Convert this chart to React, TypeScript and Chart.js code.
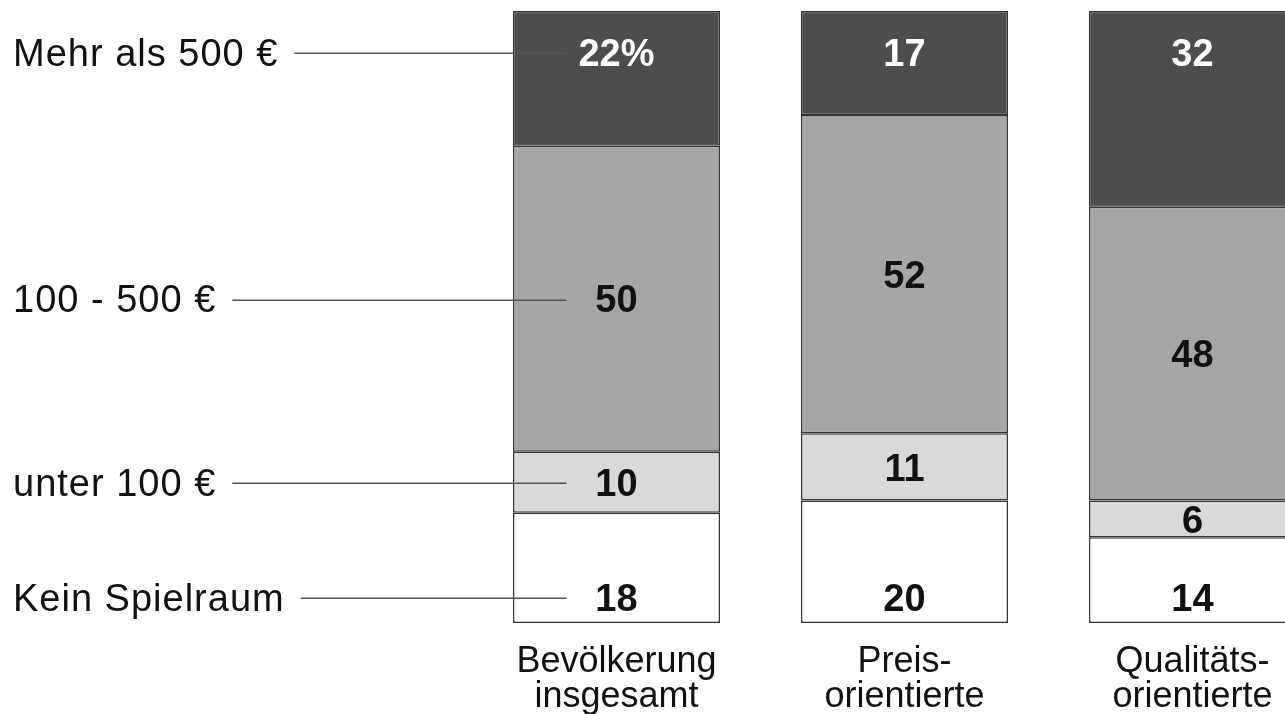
import React, { useEffect, useRef } from "react";
import { Chart, registerables } from "chart.js";

Chart.register(...registerables);

// Spielraum für Anschaffungen, Anteile in Prozent
const groups: string[][] = [
  ["Bevölkerung", "insgesamt"],
  ["Preis-", "orientierte"],
  ["Qualitäts-", "orientierte"],
];
const bandLabels = ["Kein Spielraum", "unter 100 €", "100 - 500 €", "Mehr als 500 €"];
const keinSpielraum = [18, 20, 14];
const unter100 = [10, 11, 6];
const von100bis500 = [50, 52, 48];
const mehrAls500 = [22, 17, 32];

const bandColors = ["#ffffff", "#d9d9d9", "#a6a6a6", "#4d4d4d"];
const valueColors = ["#111111", "#111111", "#111111", "#ffffff"];

const FONT = "'Liberation Sans', Arial, sans-serif";
const BAND_SIZE = 38;
const GROUP_SIZE = 36;
const VALUE_SIZE = 38;

function valueText(datasetIndex: number, barIndex: number, v: number): string {
  // the first bar of the top band carries the unit
  if (datasetIndex === 3 && barIndex === 0) return `${v}%`;
  return String(v);
}

// y centre of the value label inside a segment
function labelCenter(datasetIndex: number, top: number, base: number, lastIndex: number): number {
  if (datasetIndex === lastIndex) return top + 41;
  if (datasetIndex === 0) return base - 26;
  return (top + base) / 2;
}

const labelsPlugin = {
  id: "stackLabels",
  afterDatasetsDraw(chart: any) {
    const { ctx } = chart;
    const n = chart.data.datasets.length;
    const xScale = chart.scales.x;
    const rowY: number[] = [];

    ctx.save();
    // values inside the segments
    ctx.font = `bold ${VALUE_SIZE}px ${FONT}`;
    ctx.textAlign = "center";
    ctx.textBaseline = "alphabetic";
    for (let d = 0; d < n; d++) {
      const meta = chart.getDatasetMeta(d);
      const values = chart.data.datasets[d].data as number[];
      meta.data.forEach((el: any, j: number) => {
        const top = Math.min(el.y, el.base);
        const base = Math.max(el.y, el.base);
        const cy = labelCenter(d, top, base, n - 1);
        if (j === 0) rowY[d] = cy;
        ctx.fillStyle = valueColors[d];
        ctx.fillText(valueText(d, j, values[j]), el.x, cy + VALUE_SIZE * 0.36);
      });
    }

    // band names with leader lines to the first bar
    const first = chart.getDatasetMeta(0).data[0] as any;
    const lineEnd = first.x - 50;
    ctx.font = `${BAND_SIZE}px ${FONT}`;
    ctx.textAlign = "left";
    (ctx as any).letterSpacing = "1px";
    for (let d = 0; d < n; d++) {
      const y = rowY[d];
      ctx.fillStyle = "#111111";
      ctx.fillText(bandLabels[d], 13, y + BAND_SIZE * 0.36);
      const w = ctx.measureText(bandLabels[d]).width;
      ctx.strokeStyle = "#555555";
      ctx.lineWidth = 1.5;
      ctx.beginPath();
      ctx.moveTo(13 + w + 16, Math.round(y) + 1.25);
      ctx.lineTo(lineEnd, Math.round(y) + 1.25);
      ctx.stroke();
    }
    (ctx as any).letterSpacing = "0px";

    // category names under the bars
    ctx.font = `${GROUP_SIZE}px ${FONT}`;
    ctx.textAlign = "center";
    const bottom = chart.chartArea.bottom;
    groups.forEach((lines, j) => {
      const x = xScale.getPixelForValue(j);
      lines.forEach((line, k) => {
        ctx.fillText(line, x, bottom + 49 + k * 35);
      });
    });
    ctx.restore();
  },
};

export default function App() {
  const canvasRef = useRef<HTMLCanvasElement | null>(null);

  useEffect(() => {
    if (!canvasRef.current) return;
    const series = [keinSpielraum, unter100, von100bis500, mehrAls500];
    const chart = new Chart(canvasRef.current, {
      type: "bar",
      data: {
        labels: groups.map((g) => g.join(" ")),
        datasets: series.map((data, i) => ({
          label: bandLabels[i],
          data,
          backgroundColor: bandColors[i],
          borderColor: "#333333",
          borderWidth: 1.5,
          borderSkipped: false,
          barPercentage: 207 / 288,
          categoryPercentage: 1,
        })),
      },
      options: {
        responsive: false,
        animation: false,
        devicePixelRatio: 1,
        layout: { padding: { left: 472.5, right: 3.5, top: 11, bottom: 91 } },
        plugins: {
          legend: { display: false },
          tooltip: { enabled: false },
        },
        scales: {
          x: { stacked: true, display: false, grid: { display: false } },
          y: { stacked: true, display: false, min: 0, max: 100, grid: { display: false } },
        },
      },
      plugins: [labelsPlugin],
    });
    return () => chart.destroy();
  }, []);

  return (
    <div
      style={{
        position: "fixed",
        left: 0,
        top: 0,
        width: 1285,
        height: 714,
        overflow: "hidden",
        background: "#ffffff",
      }}
    >
      <canvas ref={canvasRef} width={1340} height={714} style={{ display: "block" }} />
    </div>
  );
}
